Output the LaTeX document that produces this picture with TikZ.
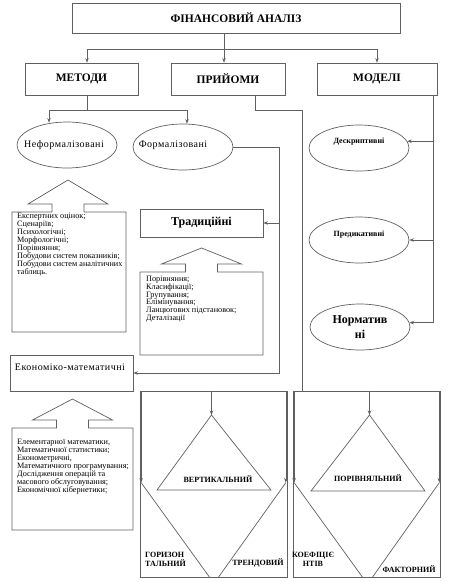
\documentclass[tikz,border=0pt]{standalone}
\usepackage{fontspec}
\setmainfont{Liberation Serif}
\usetikzlibrary{calc, positioning, shapes.geometric, arrows.meta}

\begin{document}
\begin{tikzpicture}[x=1pt, y=-1pt,
    line/.style={draw=borderColour, line width=0.7pt},
    arr/.style={line, -{Stealth[length=4.5pt, width=3.5pt]}},
    box/.style={line, inner sep=0pt},
    oval/.style={ellipse, line, minimum width=100, minimum height=46, inner sep=0pt},
    head/.style={font=\fontsize{11.5}{12}\selectfont\bfseries},
    plain/.style={font=\fontsize{10}{11}\selectfont\addfontfeature{LetterSpace=5}},
    list/.style={font=\fontsize{8.2}{8}\selectfont, align=left, anchor=north west, inner sep=0pt},
    tri/.style={font=\fontsize{8}{9}\selectfont\bfseries, inner sep=0pt}]
    % Define colors
    \definecolor{borderColour}{HTML}{606060}

    % Fix page size
    \useasboundingbox (0,0) rectangle (451,582);

    % Draw top level
    \node[box, minimum width=328, minimum height=30, font=\fontsize{11.5}{12}\selectfont\bfseries] (fin) at (236,18) {ФІНАНСОВИЙ АНАЛІЗ};
    \node[box, head, minimum width=113, minimum height=32] (metody) at (81.5,79) {МЕТОДИ};
    \node[box, head, minimum width=114, minimum height=32] (pryiomy) at (228,79) {ПРИЙОМИ};
    \node[box, head, minimum width=120, minimum height=32] (modeli) at (377,79) {МОДЕЛІ};

    % Connect top level
    \coordinate (fSplit) at ($(fin.south)+(-12,16)$);
    \draw[line] ($(fin.south)+(-12,0)$) -- (fSplit);
    \draw[arr] (fSplit) -| ($(metody.north)+(5.5,0)$);
    \draw[arr] (fSplit) -- (fSplit |- pryiomy.north);
    \draw[arr] (fSplit) -| (modeli.north);

    % Draw methods
    \node[oval, label={[plain, xshift=-3pt]center:Неформалізовані}] (nef) at (67,145) {};
    \node[oval, label={[plain, xshift=-10pt, yshift=2pt]center:Формалізовані}] (form) at (183,147) {};
    \node[box, minimum width=123, minimum height=28, font=\fontsize{12}{13}\selectfont\bfseries] (trad) at (201.5,223) {Традиційні};
    \node[box, plain, minimum width=123, minimum height=36, text height=6pt, text depth=12pt, text width=113, align=left] (ekon) at (71.5,373) {Економіко-математичні};

    % Connect methods
    \coordinate (mSplit) at ($(metody.south)+(5.5,15)$);
    \draw[line] ($(metody.south)+(5.5,0)$) -- (mSplit);
    \draw[arr] (mSplit) -| ($(nef.north)+(-18,1)$);
    \draw[arr] (mSplit) -| ($(form.north)+(4,0)$);
    \coordinate (fBus) at ($(form.east)+(46,0)$);
    \draw[arr] (form.east) -- (fBus) |- (ekon.east);
    \draw[arr] (fBus |- trad.east) -- (trad.east);

    % Draw callouts: left/top/right/bottom/centre/tip
    \foreach \l/\t/\r/\b/\c/\tip in {12/212/126/332/68/180, 140/272/263/355/201.5/248, 12/428/133/530/72.5/399}
        \draw[line] (\l,\t) -- ({\c-16},\t) -- ({\c-16},{\t-8}) -- ({\c-40},{\t-8}) -- (\c,\tip)
            -- ({\c+40},{\t-8}) -- ({\c+16},{\t-8}) -- ({\c+16},\t) -- (\r,\t) -- (\r,\b) -- (\l,\b) -- cycle;

    % Label callouts
    \node[list] (nefList) at (17,213) {Експертних оцінок;\\Сценаріїв;\\Психологічні;\\Морфологічні;\\Порівняння;\\Побудови систем показників;\\Побудови систем аналітичних\\таблиць.};
    \node[list, font=\fontsize{8.2}{7.7}\selectfont] (tradList) at (146,276) {Порівняння;\\Класифікації;\\Групування;\\Елімінування;\\Ланцюгових підстановок;\\Деталізації};
    \node[list] (ekonList) at (17,439) {Елементарної математики,\\Математичної статистики;\\Економетричні,\\Математичного програмування;\\Дослідження операцій та\\масового обслуговування;\\Економічної кібернетики;};

    % Draw models
    \node[oval, label={[font=\fontsize{8}{9}\selectfont\bfseries, yshift=6pt]center:Дескриптивні}] (descr) at (359,148) {};
    \node[oval, label={[font=\fontsize{8}{9}\selectfont\bfseries, yshift=5pt]center:Предикативні}] (pred) at (359,240) {};
    \node[oval, align=center, font=\fontsize{12}{15}\selectfont\bfseries] (norm) at (360,327) {Норматив\\ні};

    % Connect models
    \coordinate (mTop) at ($(modeli.south east)+(-4,0)$);
    \draw[arr] (mTop) |- (norm.5);
    \draw[arr] (mTop |- descr.8) -- (descr.8);
    \draw[arr] (mTop |- pred.east) -- (pred.east);

    % Draw technique groups
    \node[box, minimum width=147, minimum height=186] (gL) at (213.5,484) {};
    \node[box, minimum width=147, minimum height=186] (gR) at (366.5,484) {};
    \coordinate (pBus) at ($(pryiomy.south)+(74,15)$);
    \draw[line] ($(pryiomy.south)+(27,0)$) |- (pBus) -- (pBus |- gR.north);

    % Draw vertical and comparative triangles
    \coordinate (vA) at (211.5,415);
    \coordinate (pA) at (369.5,415);
    \draw[line] (vA) -- (157,490) -- (271,490) -- cycle;
    \draw[line] (pA) -- (311,491) -- (425,491) -- cycle;
    \draw[arr] (vA |- gL.north) -- (vA);
    \draw[arr] (pA |- gR.north) -- (pA);
    \node[tri] (vert) at (218,479) {ВЕРТИКАЛЬНИЙ};
    \node[tri] (compar) at (368,478) {ПОРІВНЯЛЬНИЙ};

    % Draw edge triangles
    \coordinate (hA) at ($(gL.north west)+(1.5,92)$);
    \coordinate (tA) at ($(gL.north east)+(-1.5,92)$);
    \coordinate (cA) at ($(gR.north west)+(1.5,92)$);
    \coordinate (kA) at ($(gR.north east)+(-1,92)$);
    \draw[line] (hA) -- ($(gL.south west)+(70,0)$);
    \draw[line] (tA) -- ($(gL.south east)+(-69,0)$);
    \draw[line] (cA) -- ($(gR.south west)+(70,0)$);
    \draw[line] (kA) -- ($(gR.south east)+(-68,0)$);
    \foreach \p in {hA, tA, cA, kA}
        \draw[arr] (\p |- gL.north) -- (\p);

    % Label edge triangles
    \node[tri, align=left, anchor=west] (horiz) at (145,559) {ГОРИЗОН\\ТАЛЬНИЙ};
    \node[tri] (trend) at (258,563) {ТРЕНДОВИЙ};
    \node[tri, align=center] (coef) at (313,559) {КОЕФІЦІЄ\\НТІВ};
    \node[tri] (factor) at (409,569) {ФАКТОРНИЙ};

\end{tikzpicture}
\end{document}
